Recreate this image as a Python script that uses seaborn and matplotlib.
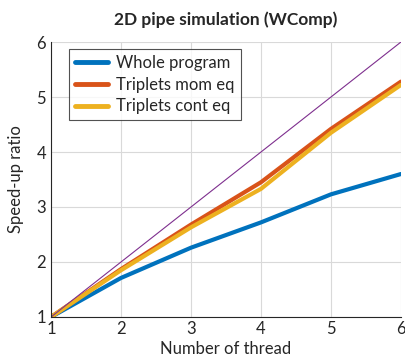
import matplotlib
matplotlib.use("Agg")
import matplotlib.pyplot as plt
import seaborn as sns
import pandas as pd

threads = [1, 2, 3, 4, 5, 6]
whole = [1.0, 1.71, 2.26, 2.72, 3.23, 3.60]
mom = [1.0, 1.87, 2.68, 3.45, 4.42, 5.28]
cont = [1.0, 1.85, 2.63, 3.33, 4.35, 5.22]
ideal = [1, 2, 3, 4, 5, 6]
series_names = ["Whole program", "Triplets mom eq", "Triplets cont eq"]
colors = ["#0072BD", "#D95319", "#EDB120"]

sns.set_style("white")
plt.rcParams['font.family'] = ['Lato', 'DejaVu Sans']

df = pd.DataFrame({
    "thread": threads * 3,
    "speedup": whole + mom + cont,
    "series": [series_names[0]] * 6 + [series_names[1]] * 6 + [series_names[2]] * 6,
})

fig = plt.figure(figsize=(4.06, 3.59), dpi=100)
ax = fig.add_axes([0.1256, 0.117, 0.862, 0.766])

sns.lineplot(data=df, x="thread", y="speedup", hue="series", palette=colors,
             linewidth=3.0, ax=ax, legend=True)
sns.lineplot(x=threads, y=ideal, color="#7E2F8E", linewidth=0.8, ax=ax, legend=False)

ax.set_xlim(1, 6)
ax.set_ylim(1, 6)
ax.set_xticks(threads)
ax.set_yticks([1, 2, 3, 4, 5, 6])
ax.grid(True, color="#d9d9d9", linewidth=0.8)
ax.set_axisbelow(True)
for s in ["top", "right"]:
    ax.spines[s].set_visible(False)
for s in ["left", "bottom"]:
    ax.spines[s].set_color("#262626")
    ax.spines[s].set_linewidth(0.8)
ax.tick_params(axis="both", labelsize=12, colors="#262626", direction="in", length=4, width=0.6)
ax.tick_params(axis="x", pad=3)
ax.set_xlabel("Number of thread", fontsize=12, color="#262626", labelpad=3)
ax.set_ylabel("Speed-up ratio", fontsize=12, color="#262626", labelpad=9)
ax.set_title("2D pipe simulation (WComp)", fontsize=12.5, fontweight="bold", color="#262626", pad=12)

leg = ax.legend(loc="upper left", bbox_to_anchor=(0.051, 0.975), borderaxespad=0, fontsize=12,
                frameon=True, fancybox=False, edgecolor="#262626", handlelength=2.0,
                handletextpad=0.5, borderpad=0.35, labelspacing=0.35)
leg.get_frame().set_linewidth(0.8)
for line in leg.get_lines():
    line.set_linewidth(3.5)

fig.savefig("out.png", dpi=100)
